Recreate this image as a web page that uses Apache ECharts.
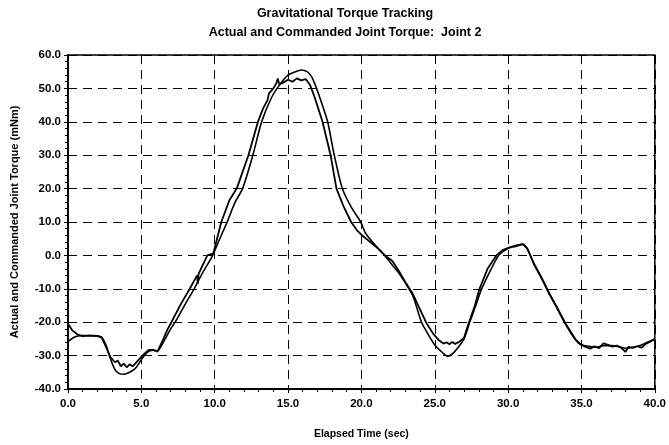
<!DOCTYPE html>
<html>
<head>
<meta charset="utf-8">
<script src="https://cdn.jsdelivr.net/npm/echarts@6/dist/echarts.min.js"></script>
<style>
  html, body { margin: 0; padding: 0; background: #fff; }
  #chart { width: 669px; height: 445px; }
</style>
</head>
<body>
<div id="chart"></div>
<script>
// Joint 2 torque tracking: commanded (smooth) and measured (noisy) torque, mNm vs seconds
const commandedTime = [
  0.0, 0.3, 0.6, 1.0, 1.5, 2.0, 2.3, 2.6, 2.9, 3.2, 3.5, 3.8, 4.2, 4.6, 5.0, 5.4, 5.8, 6.1,
  6.5, 7.0, 7.3, 8.0, 8.6, 9.2, 9.8, 10.4, 10.85, 11.4, 11.9, 12.6, 13.2, 13.9, 14.5, 15.0,
  15.5, 15.9, 16.3, 16.6, 16.9, 17.3, 17.7, 18.15, 18.7, 19.3, 19.95, 20.3, 20.8, 21.2, 21.7,
  22.2, 22.6, 23.0, 23.5, 24.1, 24.6, 25.0, 25.5, 25.9, 26.2, 26.6, 27.0, 27.4, 27.8, 28.2,
  28.8, 29.35, 29.7, 30.1, 30.5, 31.0, 31.3, 31.8, 32.3, 32.8, 33.3, 33.9, 34.6, 35.0, 35.5,
  36.0, 36.5, 37.0, 37.5, 38.0, 38.5, 39.0, 39.5, 40.0
];
const commandedTorque = [
  -25.8, -24.8, -24.2, -24.0, -24.0, -24.1, -24.5, -27.0, -31.0, -34.2, -35.4, -35.6, -35.0, -33.8, -31.2, -29.0, -28.4, -28.6,
  -26.0, -22.0, -20.0, -14.5, -10.0, -5.0, -0.5, 5.5, 10.0, 16.0, 20.0, 30.0, 40.0, 47.5, 51.5, 54.0,
  55.0, 55.5, 55.0, 53.5, 50.5, 45.5, 40.0, 30.0, 20.0, 14.5, 10.0, 6.5, 3.8, 1.8, -0.6,
  -3.4, -5.6, -8.3, -12.0, -20.0, -24.0, -26.8, -29.0, -30.2, -29.5, -27.5, -25.0, -19.8, -15.0, -10.0,
  -4.5, 0.0, 1.3, 2.3, 2.7, 3.3, 2.0, -3.0, -7.0, -11.5, -15.5, -20.5, -25.3, -26.8, -27.2,
  -27.5, -27.0, -27.0, -27.3, -27.8, -27.5, -27.0, -26.0, -25.0
];

const actualTime = [
  0.0, 0.3, 0.7, 1.0, 1.5, 2.0, 2.3, 2.6, 2.9, 3.2, 3.4, 3.6, 3.8, 4.0, 4.2, 4.4, 4.6, 4.9,
  5.2, 5.5, 5.8, 6.1, 6.4, 6.8, 7.05, 7.7, 8.3, 8.8, 8.85, 8.9, 9.5, 9.7, 9.9, 10.45, 11.0,
  11.5, 12.3, 12.95, 13.3, 13.6, 13.7, 14.0, 14.2, 14.3, 14.4, 14.7, 15.0, 15.3, 15.6, 15.9,
  16.2, 16.5, 16.8, 17.35, 17.9, 18.3, 18.8, 19.3, 19.7, 20.1, 20.8, 21.2, 21.6, 22.1, 22.6,
  23.0, 23.5, 24.4, 24.9, 25.3, 25.6, 25.8, 26.0, 26.2, 26.4, 26.7, 27.0, 27.3, 27.7, 28.05,
  28.6, 29.2, 29.6, 30.1, 30.5, 31.0, 31.3, 31.8, 32.3, 32.8, 33.3, 33.9, 34.6, 35.0, 35.3,
  35.6, 35.9, 36.2, 36.5, 36.8, 37.1, 37.4, 37.7, 38.0, 38.2, 38.5, 38.8, 39.1, 39.4, 39.7, 40.0
];
const actualTorque = [
  -20.5, -22.5, -23.8, -24.2, -24.0, -24.2, -24.6, -27.5, -30.5, -32.0, -31.5, -33.2, -32.4, -33.5, -32.6, -33.2, -32.3, -30.8,
  -29.5, -28.3, -28.3, -28.8, -26.0, -22.0, -20.0, -14.5, -10.0, -6.0, -8.5, -5.5, 0.0, 0.3, 0.5, 10.0, 16.5,
  20.0, 30.0, 40.0, 44.0, 46.5, 48.5, 50.0, 51.5, 53.0, 51.2, 51.8, 52.6, 52.0, 53.0, 52.4,
  52.8, 51.0, 47.5, 40.0, 30.0, 20.0, 14.5, 10.0, 7.5, 5.8, 3.3, 1.8, 0.0, -1.6, -5.0,
  -8.0, -11.5, -20.0, -23.5, -25.5, -26.4, -26.0, -26.6, -25.9, -26.5, -25.8, -24.6, -20.5, -15.5, -10.0,
  -4.0, 0.0, 1.5, 2.4, 2.9, 3.4, 2.1, -2.8, -6.8, -11.3, -15.3, -20.3, -25.2, -26.8, -27.4,
  -27.9, -27.2, -27.8, -26.3, -26.8, -27.3, -27.0, -27.6, -28.9, -27.4, -27.7, -27.2, -27.6, -26.4, -25.8, -25.0
];

const xTicks = { min: 0, max: 40, step: 5 };
const yTicks = { min: -40, max: 60, step: 10 };

const pairs = (xs, ys) => xs.map((x, i) => [x, ys[i]]);

const FONT = '"Liberation Sans", Arial, sans-serif';
const dashedGrid = { color: '#000', width: 1, type: [9, 6] };

const chart = echarts.init(document.getElementById('chart'), null, { renderer: 'canvas' });

chart.setOption({
  animation: false,
  backgroundColor: '#fff',
  title: {
    text: 'Gravitational Torque Tracking\nActual and Commanded Joint Torque:  Joint 2',
    left: 345,
    top: 4,
    padding: 0,
    textAlign: 'center',
    textStyle: { fontFamily: FONT, fontSize: 12.5, fontWeight: 'bold', color: '#000', lineHeight: 19 }
  },
  grid: {
    left: 68, right: 13, top: 55, bottom: 52,
    show: true, borderColor: '#000', borderWidth: 1.5, backgroundColor: 'transparent'
  },
  xAxis: {
    type: 'value',
    min: xTicks.min, max: xTicks.max, interval: xTicks.step,
    name: 'Elapsed Time (sec)',
    nameLocation: 'middle',
    nameGap: 40,
    nameTextStyle: { fontFamily: FONT, fontSize: 10.5, fontWeight: 'bold', color: '#000' },
    axisLine: { show: true, onZero: false, lineStyle: { color: '#000', width: 2 } },
    axisTick: { show: true, inside: false, length: 4, lineStyle: { color: '#000', width: 1 } },
    minorTick: { show: true, splitNumber: 5, length: 3, lineStyle: { color: '#000', width: 1 } },
    axisLabel: {
      fontFamily: FONT, fontSize: 11.5, fontWeight: 'bold', color: '#000', margin: 9,
      formatter: v => v.toFixed(1)
    },
    splitLine: { show: true, lineStyle: dashedGrid }
  },
  yAxis: {
    type: 'value',
    min: yTicks.min, max: yTicks.max, interval: yTicks.step,
    name: 'Actual and Commanded Joint Torque (mNm)',
    nameLocation: 'middle',
    nameGap: 48,
    nameTextStyle: { fontFamily: FONT, fontSize: 11, fontWeight: 'bold', color: '#000' },
    axisLine: { show: true, onZero: false, lineStyle: { color: '#000', width: 2 } },
    axisTick: { show: true, inside: false, length: 4, lineStyle: { color: '#000', width: 1 } },
    minorTick: { show: true, splitNumber: 5, length: 3, lineStyle: { color: '#000', width: 1 } },
    axisLabel: {
      fontFamily: FONT, fontSize: 11.5, fontWeight: 'bold', color: '#000', margin: 7,
      formatter: v => v.toFixed(1)
    },
    splitLine: { show: true, lineStyle: dashedGrid }
  },
  series: [
    {
      name: 'Commanded',
      type: 'line',
      data: pairs(commandedTime, commandedTorque),
      showSymbol: false,
      smooth: 0.25,
      lineStyle: { color: '#000', width: 1.6 },
      z: 3
    },
    {
      name: 'Actual',
      type: 'line',
      data: pairs(actualTime, actualTorque),
      showSymbol: false,
      smooth: false,
      lineStyle: { color: '#000', width: 1.8 },
      z: 4
    }
  ]
});
</script>
</body>
</html>
